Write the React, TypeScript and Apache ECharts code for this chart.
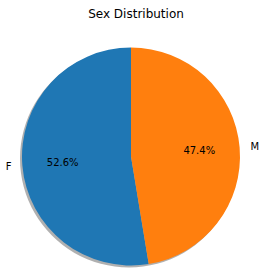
import React, { useEffect, useRef } from "react";
import * as echarts from "echarts";

const categories = ["F", "M"];
const values = [52.6, 47.4];
const colors = ["#1f77b4", "#ff7f0e"];
const titleText = "Sex Distribution";

export default function App() {
  const ref = useRef<HTMLDivElement>(null);
  useEffect(() => {
    if (!ref.current) return;
    const chart = echarts.init(ref.current, null, { renderer: "svg" });
    const data = categories.map((c, i) => ({
      name: c,
      value: values[i],
      itemStyle: { color: colors[i] },
    }));
    const font = "DejaVu Sans";
    chart.setOption({
      animation: false,
      title: {
        text: titleText,
        left: 131,
        top: 3,
        textAlign: "center",
        textStyle: { fontSize: 12, fontWeight: "normal", color: "#000", fontFamily: font },
      },
      series: [
        {
          type: "pie",
          center: [129, 158.5],
          radius: [0, 109],
          silent: true,
          data: [{ name: "shadow", value: 1 }],
          itemStyle: { color: "rgba(80,80,80,0.45)" },
          label: { show: false },
          labelLine: { show: false },
        },
        {
          type: "pie",
          center: [131, 156.5],
          radius: [0, 109],
          startAngle: 90,
          clockwise: false,
          avoidLabelOverlap: false,
          silent: true,
          data,
          label: {
            show: true,
            position: "outside",
            formatter: "{b}",
            fontSize: 10,
            color: "#000",
            fontFamily: font,
            distanceToLabelLine: 0,
          },
          labelLine: { show: false, length: 11, length2: 0 },
        },
        {
          type: "pie",
          center: [131, 156.5],
          radius: [22, 109],
          startAngle: 90,
          clockwise: false,
          avoidLabelOverlap: false,
          silent: true,
          data: categories.map((c, i) => ({ name: c, value: values[i] })),
          itemStyle: { color: "rgba(0,0,0,0)" },
          label: {
            show: true,
            position: "inside",
            formatter: (p: any) => p.value.toFixed(1) + "%",
            fontSize: 10,
            color: "#000",
            fontFamily: font,
          },
          labelLine: { show: false },
        },
      ],
    });
    return () => chart.dispose();
  }, []);
  return (
    <div
      ref={ref}
      style={{ position: "fixed", left: 0, top: 0, width: 266, height: 273, background: "#fff" }}
    />
  );
}
